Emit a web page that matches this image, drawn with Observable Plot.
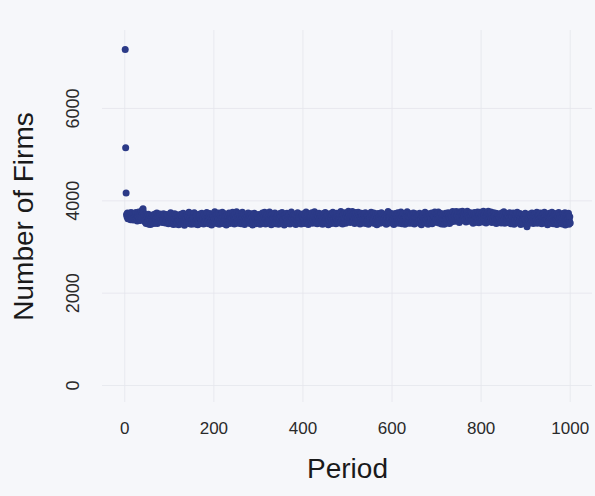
<!DOCTYPE html>
<html>
<head>
<meta charset="utf-8">
<script src="https://cdn.jsdelivr.net/npm/d3@7"></script>
<script src="https://cdn.jsdelivr.net/npm/@observablehq/plot@0.6"></script>
<style>
  html, body { margin: 0; padding: 0; background: #f6f7fa; }
  #chart { width: 595px; height: 496px; }
</style>
</head>
<body>
<div id="chart"></div>
<script>
// Number of firms per period (periods 1..1000)
const firms = [
7280,5150,4170,3702,3655,3738,3610,3684,3725,3628,3671,3712,3590,3745,3647,3696,3618,3731,3583,3709,
3640,3727,3596,3675,3748,3622,3690,3561,3716,3662,3760,3605,3686,3722,3574,3699,3771,3648,3741,3806,
3830,3752,3668,3579,3704,3536,3660,3508,3689,3521,3642,3557,3711,3492,3624,3599,3678,3486,3649,3603,
3530,3676,3563,3698,3508,3641,3589,3715,3524,3621,3567,3735,3510,3652,3548,3693,3570,3626,3717,3551,
3680,3581,3632,3533,3654,3597,3718,3554,3621,3667,3519,3612,3568,3706,3593,3540,3650,3505,3626,3577,
3661,3538,3741,3599,3512,3636,3571,3689,3488,3615,3549,3722,3588,3496,3651,3564,3700,3524,3629,3592,
3483,3572,3677,3543,3616,3711,3507,3585,3655,3560,3733,3530,3604,3469,3575,3668,3547,3623,3520,3693,
3587,3653,3539,3752,3613,3504,3640,3563,3714,3493,3596,3545,3665,3621,3518,3744,3578,3500,3646,3566,
3702,3534,3609,3484,3590,3672,3552,3631,3716,3509,3601,3569,3729,3527,3642,3606,3497,3698,3557,3619,
3548,3667,3595,3747,3523,3624,3581,3501,3648,3600,3726,3541,3630,3565,3478,3611,3692,3558,3657,3532,
3610,3763,3544,3670,3589,3511,3708,3559,3643,3599,3737,3491,3618,3570,3695,3537,3634,3602,3754,3522,
3648,3576,3505,3719,3607,3550,3675,3474,3591,3703,3567,3652,3528,3735,3604,3508,3637,3585,3713,3546,
3623,3750,3558,3669,3594,3498,3711,3612,3542,3644,3766,3569,3628,3517,3689,3597,3728,3553,3656,3590,
3506,3676,3614,3755,3545,3631,3712,3578,3487,3625,3556,3696,3608,3531,3670,3593,3739,3521,3619,3573,
3684,3510,3601,3720,3554,3646,3476,3592,3668,3539,3731,3575,3622,3502,3599,3693,3563,3639,3525,3613,
3705,3547,3627,3492,3580,3674,3560,3615,3736,3519,3597,3661,3535,3751,3606,3499,3645,3574,3701,3552,
3621,3512,3659,3593,3757,3540,3609,3688,3482,3583,3714,3561,3629,3526,3671,3599,3738,3506,3616,3568,
3650,3536,3706,3600,3494,3625,3563,3723,3607,3518,3666,3576,3748,3543,3620,3596,3679,3479,3603,3694,
3556,3637,3524,3733,3589,3658,3509,3612,3710,3571,3496,3647,3541,3758,3601,3624,3529,3676,3577,3707,
3538,3614,3691,3485,3591,3664,3561,3740,3604,3520,3653,3584,3717,3549,3627,3497,3609,3701,3567,3641,
3721,3544,3611,3507,3672,3590,3756,3534,3632,3579,3687,3489,3618,3556,3712,3598,3532,3657,3581,3742,
3513,3623,3595,3678,3541,3762,3608,3522,3650,3570,3698,3501,3599,3668,3551,3729,3617,3518,3643,3593,
3689,3563,3645,3495,3610,3724,3537,3628,3575,3746,3514,3606,3673,3555,3703,3594,3484,3624,3580,3719,
3547,3652,3604,3508,3681,3578,3752,3527,3621,3597,3715,3553,3640,3503,3615,3732,3571,3667,3536,3633,
3590,3707,3521,3611,3769,3558,3649,3602,3497,3697,3576,3626,3531,3743,3614,3515,3665,3587,3724,3550,
3644,3773,3577,3694,3618,3528,3737,3601,3672,3554,3767,3629,3565,3716,3606,3510,3684,3636,3749,3583,
3532,3667,3609,3755,3560,3699,3626,3498,3640,3592,3730,3543,3676,3613,3519,3720,3574,3651,3600,3742,
3511,3622,3580,3690,3556,3654,3492,3612,3713,3569,3639,3530,3751,3596,3681,3523,3619,3577,3734,3605,
3509,3668,3566,3715,3601,3481,3631,3575,3726,3540,3647,3607,3513,3696,3591,3744,3545,3625,3570,3679,
3526,3616,3711,3559,3653,3597,3494,3694,3611,3549,3768,3572,3638,3520,3672,3599,3733,3537,3623,3584,
3697,3551,3608,3486,3648,3594,3727,3523,3627,3680,3562,3604,3740,3514,3645,3580,3691,3544,3617,3757,
3593,3506,3665,3573,3718,3548,3629,3600,3493,3679,3564,3641,3535,3763,3609,3517,3671,3582,3725,3556,
3628,3516,3704,3598,3540,3658,3574,3739,3613,3497,3650,3558,3721,3591,3637,3527,3693,3603,3542,3674,
3576,3732,3507,3619,3595,3483,3677,3557,3649,3710,3545,3612,3579,3753,3520,3631,3590,3698,3550,3656,
3490,3602,3720,3571,3683,3537,3626,3598,3738,3505,3620,3578,3668,3531,3648,3759,3560,3614,3588,3707,
3543,3655,3606,3756,3522,3624,3678,3563,3593,3726,3500,3644,3580,3702,3552,3613,3491,3671,3599,3733,
3567,3633,3519,3697,3607,3742,3582,3657,3508,3621,3594,3723,3541,3666,3611,3770,3573,3650,3555,3682,
3600,3711,3561,3768,3627,3682,3584,3738,3610,3659,3533,3761,3636,3592,3747,3669,3576,3775,3692,3617,
3726,3655,3590,3753,3680,3543,3709,3618,3772,3664,3571,3724,3631,3695,3557,3740,3606,3669,3582,3728,
3625,3515,3681,3596,3747,3566,3653,3608,3713,3537,3634,3760,3592,3671,3524,3704,3617,3751,3553,3657,
3720,3593,3664,3539,3774,3630,3696,3577,3752,3614,3518,3678,3651,3734,3584,3776,3667,3602,3717,3556,
3660,3758,3605,3529,3700,3626,3586,3741,3655,3560,3683,3609,3730,3508,3633,3597,3719,3572,3677,3616,
3535,3698,3599,3652,3521,3735,3624,3575,3680,3554,3765,3612,3514,3662,3590,3724,3541,3629,3699,3569,
3673,3527,3618,3744,3578,3641,3502,3712,3601,3656,3558,3739,3610,3494,3643,3583,3709,3536,3658,3597,
3751,3550,3625,3518,3686,3574,3728,3614,3489,3647,3563,3705,3539,3613,3674,3516,3635,3589,3731,3499,
3557,3486,3440,3534,3620,3507,3667,3570,3713,3525,3603,3672,3560,3735,3587,3632,3511,3693,3609,3565,
3722,3540,3651,3596,3751,3517,3624,3675,3580,3706,3533,3612,3739,3553,3657,3503,3628,3592,3720,3546,
3643,3755,3568,3678,3522,3610,3700,3598,3482,3661,3538,3631,3731,3574,3645,3515,3682,3604,3752,3536,
3620,3501,3673,3579,3727,3552,3634,3601,3709,3487,3590,3658,3534,3747,3607,3519,3652,3569,3703,3548,
3626,3496,3593,3723,3530,3667,3571,3741,3479,3616,3551,3698,3509,3635,3596,3733,3490,3574,3655,3521
];
const xTicks = [0, 200, 400, 600, 800, 1000];
const yTicks = [0, 2000, 4000, 6000];
const xLabel = "Period";
const yLabel = "Number of Firms";

const data = firms.map((v, i) => ({period: i + 1, firms: v}));

const font = "'Liberation Sans', Arial, Helvetica, sans-serif";
const chart = Plot.plot({
  width: 595,
  height: 496,
  marginLeft: 102,
  marginRight: 3,
  marginTop: 30,
  marginBottom: 94,
  style: {background: "#f6f7fa", fontFamily: font, fontSize: "17px", color: "#2a2a2a"},
  x: {domain: [-50, 1050], axis: null},
  y: {domain: [-368, 7689], axis: null},
  marks: [
    Plot.gridX(xTicks, {stroke: "#e4e6ec", strokeOpacity: 1, strokeWidth: 0.8}),
    Plot.gridY(yTicks, {stroke: "#e4e6ec", strokeOpacity: 1, strokeWidth: 0.8}),
    Plot.text(xTicks, {x: d => d, frameAnchor: "bottom", dy: 31, text: d => String(d), fontSize: 17, fill: "#2a2a2a"}),
    Plot.text(yTicks, {y: d => d, frameAnchor: "left", textAnchor: "middle", rotate: -90, dx: -29, text: d => String(d), fontSize: 18, fill: "#2a2a2a"}),
    Plot.dot(data, {x: "period", y: "firms", r: 3.5, fill: "#2b3a87", stroke: null}),
    Plot.text([xLabel], {frameAnchor: "bottom", dy: 75, fontSize: 28, fill: "#1a1a1a"}),
    Plot.text([yLabel], {frameAnchor: "left", textAnchor: "middle", rotate: -90, dx: -78, fontSize: 28, fill: "#1a1a1a"})
  ]
});
document.getElementById("chart").appendChild(chart);
</script>
</body>
</html>
